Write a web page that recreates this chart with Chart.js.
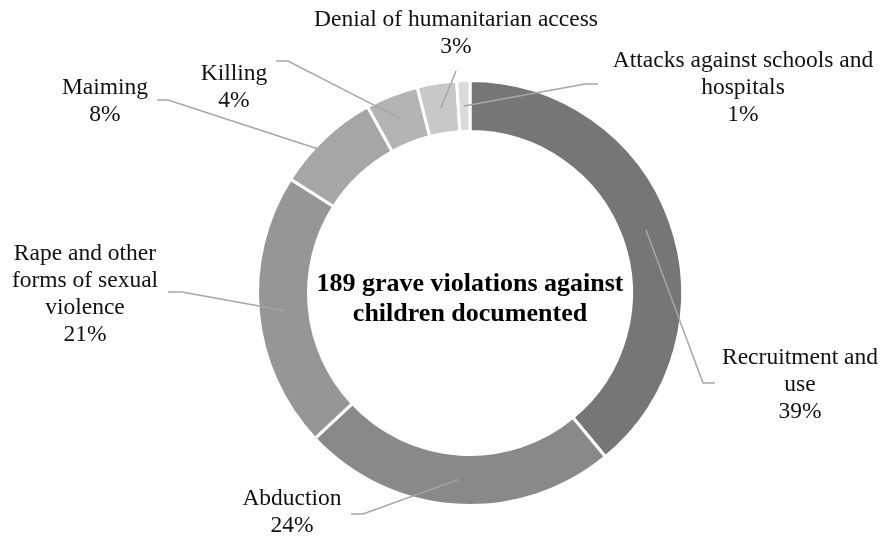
<!DOCTYPE html>
<html>
<head>
<meta charset="utf-8">
<title>Grave violations against children</title>
<script src="https://cdn.jsdelivr.net/npm/chart.js@4.4.1/dist/chart.umd.min.js"></script>
<style>
  html, body { margin: 0; padding: 0; background: #fff; }
  #wrap { width: 881px; height: 540px; }
</style>
</head>
<body>
<div id="wrap"><canvas id="violationsChart" width="881" height="540"></canvas></div>
<script>
// Share of documented violations by type (percent of 189)
const categories = [
  ["Recruitment and", "use"],
  ["Abduction"],
  ["Rape and other", "forms of sexual", "violence"],
  ["Maiming"],
  ["Killing"],
  ["Denial of humanitarian access"],
  ["Attacks against schools and", "hospitals"]
];
const shares = [39, 24, 21, 8, 4, 3, 1];
const sliceColors = ["#767676", "#898989", "#969696", "#a6a6a6", "#b4b4b4", "#c8c8c8", "#dadada"];
const centerLines = ["189 grave violations against", "children documented"];

// label placement: text centre, first line y, leader elbow and end
const labelLayout = [
  { x: 800, y: 358, elbow: [703, 383], end: [715, 383] },
  { x: 292, y: 499, elbow: [363, 514], end: [351, 514] },
  { x: 85,  y: 254, elbow: [182, 292], end: [168, 292] },
  { x: 105, y: 88,  elbow: [168, 100], end: [157, 100] },
  { x: 234, y: 74,  elbow: [288, 61],  end: [276, 61] },
  { x: 456, y: 20,  elbow: null,       end: [456, 71] },
  { x: 743, y: 61,  elbow: [585, 84],  end: [598, 84] }
];

const LABEL_FONT = "23.5px 'Liberation Serif', 'Times New Roman', serif";
const CENTER_FONT = "bold 26px 'Liberation Serif', 'Times New Roman', serif";
const LINE_H = 27;

const calloutPlugin = {
  id: "callouts",
  afterDraw(chart) {
    const ctx = chart.ctx;
    const arcs = chart.getDatasetMeta(0).data;
    ctx.save();

    // leader lines from the middle of each slice
    ctx.strokeStyle = "#a6a6a6";
    ctx.lineWidth = 1.5;
    arcs.forEach((arc, i) => {
      const lay = labelLayout[i];
      const p = arc.tooltipPosition();
      ctx.beginPath();
      ctx.moveTo(p.x, p.y);
      if (lay.elbow) ctx.lineTo(lay.elbow[0], lay.elbow[1]);
      ctx.lineTo(lay.end[0], lay.end[1]);
      ctx.stroke();
    });

    // category + percent labels
    ctx.fillStyle = "#111";
    ctx.font = LABEL_FONT;
    ctx.textAlign = "center";
    ctx.textBaseline = "middle";
    categories.forEach((lines, i) => {
      const lay = labelLayout[i];
      const all = lines.concat([shares[i] + "%"]);
      all.forEach((t, k) => ctx.fillText(t, lay.x, lay.y + k * LINE_H));
    });

    // centre caption
    const cx = (chart.chartArea.left + chart.chartArea.right) / 2;
    const cy = (chart.chartArea.top + chart.chartArea.bottom) / 2;
    ctx.font = CENTER_FONT;
    ctx.fillStyle = "#000";
    ctx.fillText(centerLines[0], cx, cy - 9);
    ctx.fillText(centerLines[1], cx, cy + 21);
    ctx.restore();
  }
};

new Chart(document.getElementById("violationsChart"), {
  type: "doughnut",
  data: {
    labels: categories.map(l => l.join(" ")),
    datasets: [{
      data: shares,
      backgroundColor: sliceColors,
      borderColor: "#ffffff",
      borderWidth: 3
    }]
  },
  options: {
    responsive: false,
    animation: false,
    cutout: "76%",
    layout: { padding: { left: 256, right: 197, top: 79, bottom: 33 } },
    plugins: {
      legend: { display: false },
      tooltip: { enabled: false }
    }
  },
  plugins: [calloutPlugin]
});
</script>
</body>
</html>
